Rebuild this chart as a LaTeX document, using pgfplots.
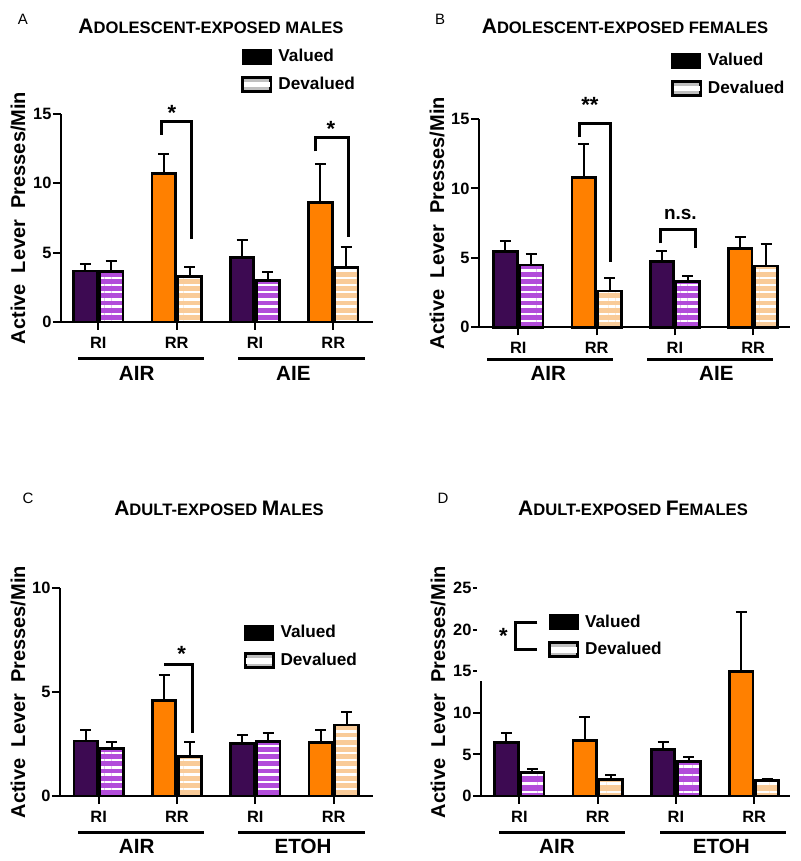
\documentclass[border=0pt]{standalone}
\usepackage{fontspec}
\setmainfont{Liberation Sans}
\usepackage{pgfplots}
\pgfplotsset{compat=1.18}
\usetikzlibrary{patterns.meta}

\definecolor{dpurple}{HTML}{3D0A52}
\definecolor{lpurple}{HTML}{B24CDA}
\definecolor{orng}{HTML}{FF8000}
\definecolor{peach}{HTML}{F9CB98}

\pgfplotsset{
  panel/.style={
    scale only axis, axis lines=left, axis line style={line width=1pt,-},
    enlargelimits=false, clip=false, ymin=0,
    xtick={0,1,2,3}, xticklabels={RI,RR,RI,RR},
    tick align=outside, major tick length=4pt,
    tick style={line width=1pt,black},
    ticklabel style={font=\bfseries\fontsize{8.2}{10}\selectfont},
    yticklabel style={inner xsep=0.6pt},
    /pgf/number format/assume math mode=true,
    ybar, bar width=0.30,
    legend style={draw=none, fill=none, inner sep=0pt, anchor=north west,
      font=\bfseries\fontsize{8.6}{10}\selectfont, row sep=2pt,
      /tikz/column sep=1pt},
    legend cell align=left,
  },
  bval/.style={fill=#1, draw=black, line width=1.4pt, forget plot,
    error bars/.cd, y dir=plus, y explicit,
    error bar style={line width=1pt,black},
    error mark options={rotate=90,mark size=2.75pt,line width=1pt,black}},
  bdev/.style 2 args={preaction={fill=#1}, pattern={Lines[angle=0,distance=#2,line width=1.25pt]},
    pattern color=white, draw=black, line width=1.4pt, forget plot,
    error bars/.cd, y dir=plus, y explicit,
    error bar style={line width=1pt,black},
    error mark options={rotate=90,mark size=2.75pt,line width=1pt,black}},
}
\newcommand{\legval}{\addlegendimage{legend image code/.code={\draw[black,fill=black,line width=1pt] (0pt,-3.5pt) rectangle (14pt,3.5pt);}}\addlegendentry{Valued}}
\newcommand{\legdev}{\addlegendimage{legend image code/.code={\draw[black,fill=gray!50,line width=1.5pt] (0pt,-3.5pt) rectangle (14pt,3.5pt);\fill[white] (0.75pt,-1.1pt) rectangle (13.25pt,1.1pt);}}\addlegendentry{Devalued}}
\newcommand{\ylab}[1]{\node[rotate=90,font=\bfseries\fontsize{10}{12}\selectfont] at ([xshift=-#1]rel axis cs:0,0.5) {Active\ \ Lever\ \ Presses/Min};}
\newcommand{\grp}[6]{% x1,x2,labelx,label,lineshift,labelshift
  \draw[line width=1.5pt] ([yshift=-#5]axis cs:#1,0) -- ([yshift=-#5]axis cs:#2,0);
  \node[font=\bfseries\fontsize{10.3}{12}\selectfont] at ([yshift=-#6]axis cs:#3,0) {#4};}
\newcommand{\bigsmall}[3]{{\fontsize{10.5}{12}\selectfont #1}{\fontsize{8.3}{10}\selectfont #2}{\fontsize{10.5}{12}\selectfont #3}}

\begin{document}
\begin{tikzpicture}
\useasboundingbox (0,0) rectangle (400pt,430.5pt);

% titles and letters
\node[font=\fontsize{7.5}{9}\selectfont] at (11.5pt,421pt) {A};
\node[font=\fontsize{7.5}{9}\selectfont] at (220pt,421pt) {B};
\node[font=\fontsize{7.5}{9}\selectfont] at (14pt,181.5pt) {C};
\node[font=\fontsize{7.5}{9}\selectfont] at (221.5pt,181.5pt) {D};
\node[font=\bfseries] at (105.5pt,417.5pt) {\bigsmall{A}{DOLESCENT-EXPOSED MALES}{}};
\node[font=\bfseries] at (312.5pt,417.5pt) {\bigsmall{A}{DOLESCENT-EXPOSED FEMALES}{}};
\node[font=\bfseries] at (109.5pt,176.5pt) {\bigsmall{A}{DULT-EXPOSED }{M}\bigsmall{}{ALES}{}};
\node[font=\bfseries] at (316.5pt,176.5pt) {\bigsmall{A}{DULT-EXPOSED }{F}\bigsmall{}{EMALES}{}};

% ---------------- Panel A ----------------
\begin{axis}[panel, at={(30.5pt,269.5pt)}, anchor=south west,
  width=156pt, height=104pt, xmin=-0.476, xmax=3.507, ymax=15,
  ytick={0,5,10,15},
  legend style={at={(0.577,1.333)}}]
\legval \legdev
\addplot[bar shift=-0.165, bval=dpurple] coordinates {(0,3.68) +- (0,0.47) (2,4.64) +- (0,1.27)};
\addplot[bar shift=0.165, bdev={lpurple}{3.6pt}] coordinates {(0,3.65) +- (0,0.72) (2,2.98) +- (0,0.60)};
\addplot[bar shift=-0.165, bval=orng] coordinates {(1,10.73) +- (0,1.42) (3,8.62) +- (0,2.80)};
\addplot[bar shift=0.165, bdev={peach}{3.6pt}] coordinates {(1,3.29) +- (0,0.71) (3,3.92) +- (0,1.50)};
\draw[line width=1.5pt] (axis cs:0.813,13.5) -- (axis cs:0.813,14.45) -- (axis cs:1.196,14.45) -- (axis cs:1.196,5.98);
\node[font=\bfseries\fontsize{11}{12}\selectfont] at (axis cs:0.94,15.1) {*};
\draw[line width=1.5pt] (axis cs:2.775,12.3) -- (axis cs:2.775,13.3) -- (axis cs:3.19,13.3) -- (axis cs:3.19,6.15);
\node[font=\bfseries\fontsize{11}{12}\selectfont] at (axis cs:2.97,13.95) {*};
\ylab{21.5pt}
\grp{-0.255}{1.35}{0.49}{AIR}{18.5pt}{25.5pt}
\grp{1.786}{3.40}{2.49}{AIE}{18.5pt}{25.5pt}
\end{axis}

% ---------------- Panel B ----------------
\begin{axis}[panel, at={(239.5pt,266.85pt)}, anchor=south west,
  width=155.5pt, height=104.15pt, xmin=-0.502, xmax=3.47, ymax=15,
  ytick={0,5,10,15},
  legend style={at={(0.616,1.337)}}]
\legval \legdev
\addplot[bar shift=-0.165, bval=dpurple] coordinates {(0,5.45) +- (0,0.79) (2,4.73) +- (0,0.77)};
\addplot[bar shift=0.165, bdev={lpurple}{3.6pt}] coordinates {(0,4.49) +- (0,0.79) (2,3.29) +- (0,0.41)};
\addplot[bar shift=-0.165, bval=orng] coordinates {(1,10.78) +- (0,2.42) (3,5.69) +- (0,0.84)};
\addplot[bar shift=0.165, bdev={peach}{3.6pt}] coordinates {(1,2.62) +- (0,0.91) (3,4.42) +- (0,1.58)};
\draw[line width=1.5pt] (axis cs:0.78,13.68) -- (axis cs:0.78,14.64) -- (axis cs:1.18,14.64) -- (axis cs:1.18,4.73);
\node[font=\bfseries\fontsize{11}{12}\selectfont] at (axis cs:0.915,16.0) {**};
\draw[line width=1.5pt] (axis cs:1.82,6.05) -- (axis cs:1.82,7.06) -- (axis cs:2.26,7.06) -- (axis cs:2.26,5.69);
\node[font=\bfseries\fontsize{9.5}{11}\selectfont] at (axis cs:2.07,8.1) {n.s.};
\ylab{21pt}
\grp{-0.396}{1.204}{0.383}{AIR}{16pt}{23pt}
\grp{1.647}{3.255}{2.53}{AIE}{16pt}{23pt}
\end{axis}

% ---------------- Panel C ----------------
\begin{axis}[panel, at={(30pt,32.5pt)}, anchor=south west,
  width=156.5pt, height=103.85pt, xmin=-0.494, xmax=3.503, ymax=10,
  ytick={0,5,10},
  legend style={at={(0.585,0.842)}}]
\legval \legdev
\addplot[bar shift=-0.165, bval=dpurple] coordinates {(0,2.65) +- (0,0.53) (2,2.54) +- (0,0.40)};
\addplot[bar shift=0.165, bdev={lpurple}{3.6pt}] coordinates {(0,2.30) +- (0,0.32) (2,2.62) +- (0,0.40)};
\addplot[bar shift=-0.165, bval=orng] coordinates {(1,4.59) +- (0,1.24) (3,2.58) +- (0,0.60)};
\addplot[bar shift=0.165, bdev={peach}{3.6pt}] coordinates {(1,1.89) +- (0,0.69) (3,3.42) +- (0,0.64)};
\draw[line width=1.5pt] (axis cs:0.84,6.31) -- (axis cs:1.2,6.31) -- (axis cs:1.2,3.05);
\node[font=\bfseries\fontsize{11}{12}\selectfont] at (axis cs:1.06,6.85) {*};
\ylab{21pt}
\grp{-0.26}{1.345}{0.485}{AIR}{18.35pt}{25.35pt}
\grp{1.783}{3.40}{2.61}{ETOH}{18.35pt}{25.35pt}
\end{axis}

% ---------------- Panel D ----------------
\begin{axis}[panel, at={(240.5pt,32.5pt)}, anchor=south west,
  width=154.5pt, height=103.85pt, xmin=-0.49, xmax=3.457, ymax=25,
  ytick={0,5,10,15,20,25},
  legend style={at={(0.216,0.894)}}]
\legval \legdev
\addplot[bar shift=-0.165, bval=dpurple] coordinates {(0,6.43) +- (0,1.20) (2,5.62) +- (0,0.93)};
\addplot[bar shift=0.165, bdev={lpurple}{4.3pt}] coordinates {(0,2.81) +- (0,0.40) (2,4.14) +- (0,0.60)};
\addplot[bar shift=-0.165, bval=orng] coordinates {(1,6.67) +- (0,2.81) (3,14.98) +- (0,7.12)};
\addplot[bar shift=0.165, bdev={peach}{4.3pt}] coordinates {(1,2.00) +- (0,0.53) (3,1.85) +- (0,0.24)};
\draw[line width=1.5pt] (axis cs:0.23,20.9) -- (axis cs:-0.055,20.9) -- (axis cs:-0.055,17.58) -- (axis cs:0.23,17.58);
\node[font=\bfseries\fontsize{11}{12}\selectfont] at (axis cs:-0.204,19.3) {*};
\ylab{21.5pt}
\grp{-0.26}{1.35}{0.48}{AIR}{18.35pt}{25.35pt}
\grp{1.80}{3.40}{2.58}{ETOH}{18.35pt}{25.35pt}
\end{axis}
\draw[white,line width=4pt] (240.5pt,90.2pt) -- (240.5pt,137.6pt);
\end{tikzpicture}
\end{document}
